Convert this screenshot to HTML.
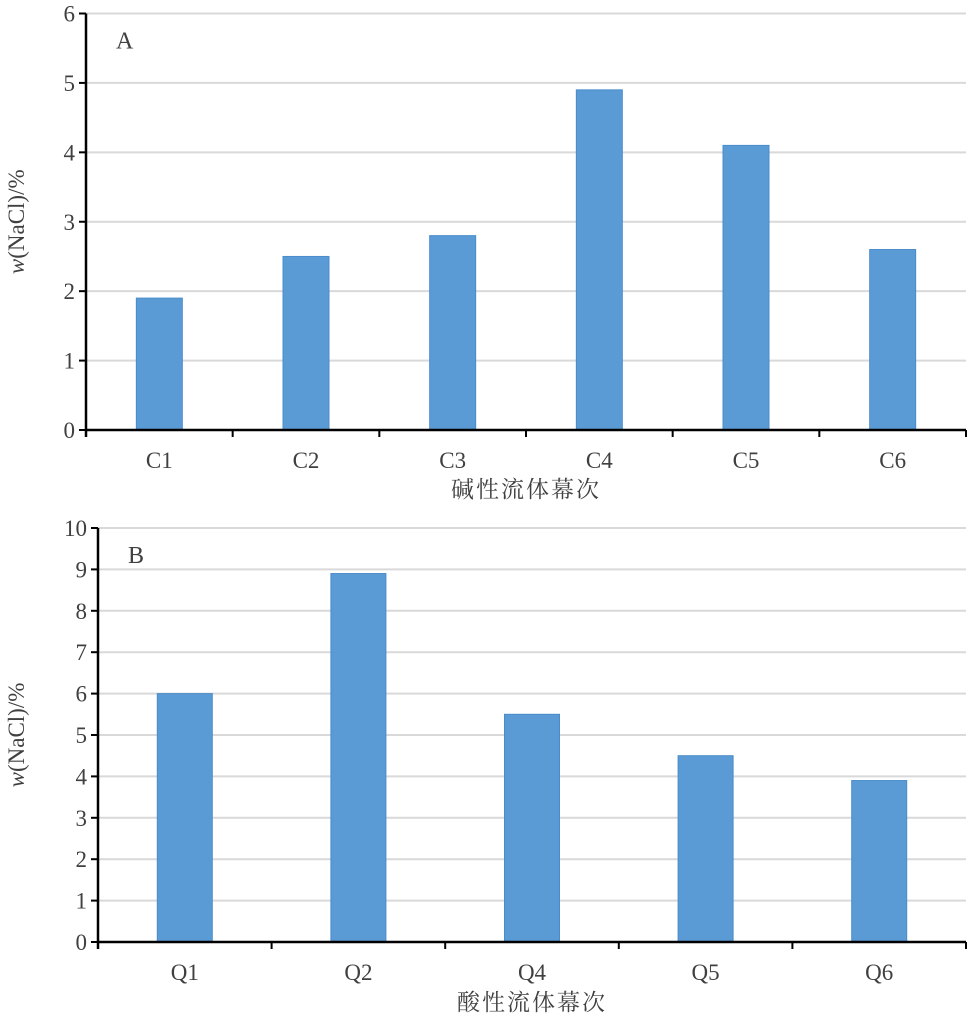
<!DOCTYPE html>
<html><head><meta charset="utf-8"><style>
body{margin:0;background:#fff}
svg text{font-family:"Liberation Serif","Noto Serif CJK SC",serif;fill:#404040}
</style></head><body>
<svg id="c" width="969" height="1020" xmlns="http://www.w3.org/2000/svg"></svg>
<script>
const catsA=["C1","C2","C3","C4","C5","C6"];
const valsA=[1.9,2.5,2.8,4.9,4.1,2.6];
const ticksA=[0,1,2,3,4,5,6];
const catsB=["Q1","Q2","Q4","Q5","Q6"];
const valsB=[6.0,8.9,5.5,4.5,3.9];
const ticksB=[0,1,2,3,4,5,6,7,8,9,10];
const svg=document.getElementById('c');
const NS="http://www.w3.org/2000/svg";
function mk(t,a,parent){const e=document.createElementNS(NS,t);for(const k in a)e.setAttribute(k,a[k]);(parent||svg).appendChild(e);return e;}
function chart(id,cats,vals,ticks,x0,x1,y0,yTop,max,barW,letter,xTitle,xTitleY){
  const g=mk('g',{});
  
  
  const y=v=>y0-(y0-yTop)*v/max;
  const bw=(x1-x0)/cats.length;
  const xc=i=>x0+bw*(i+0.5);
  ticks.forEach(t=>{
    if(t>0){const l=mk('line',{x1:x0,x2:x1,y1:y(t),y2:y(t),stroke:'#d9d9d9','stroke-width':2},g);
    
    }
    const tk=mk('line',{x1:x0-7,x2:x0,y1:y(t),y2:y(t),stroke:'#000','stroke-width':2},g);
    
    
    const tx=mk('text',{x:x0-11,y:y(t)+8,'text-anchor':'end','font-size':23},g);
    tx.textContent=t;
    
    
  });
  cats.forEach((c,i)=>{
    const r=mk('rect',{x:xc(i)-barW/2,y:y(vals[i]),width:barW,height:y0-y(vals[i]),fill:'#5b9bd5',stroke:'#4a8ccb','stroke-width':1},g);
    
    
    const t=mk('text',{x:xc(i),y:y0+38,'text-anchor':'middle','font-size':23},g);
    t.textContent=c;
    
    
  });
  for(let i=0;i<=cats.length;i++){
    const tk=mk('line',{x1:x0+bw*i,x2:x0+bw*i,y1:y0,y2:y0+7,stroke:'#000','stroke-width':2},g);
    
    
  }
  const ax=mk('line',{x1:x0,x2:x0,y1:yTop,y2:y0+7,stroke:'#000','stroke-width':2.5},g);
  
  
  const bx=mk('line',{x1:x0,x2:x1,y1:y0,y2:y0,stroke:'#000','stroke-width':2.5},g);
  
  
  const L=mk('text',{x:x0+30,y:yTop+35,'font-size':24},g);
  L.textContent=letter;
  
  
  const xt=mk('text',{x:(x0+x1)/2,y:xTitleY,'text-anchor':'middle','font-size':23,'letter-spacing':2},g);
  xt.textContent=xTitle;
  
  
  const yt=mk('text',{x:0,y:0,'text-anchor':'middle','font-size':23,transform:`translate(24,${(y0+yTop)/2}) rotate(-90)`},g);
  yt.innerHTML='<tspan font-style="italic">w</tspan>(NaCl)/%';
  
  
}
chart('chart-a',catsA,valsA,ticksA,86,966,430,13.5,6,46,'A','碱性流体幕次',497);
chart('chart-b',catsB,valsB,ticksB,98,966,942,528,10,55,'B','酸性流体幕次',1010);
</script>
</body></html>
